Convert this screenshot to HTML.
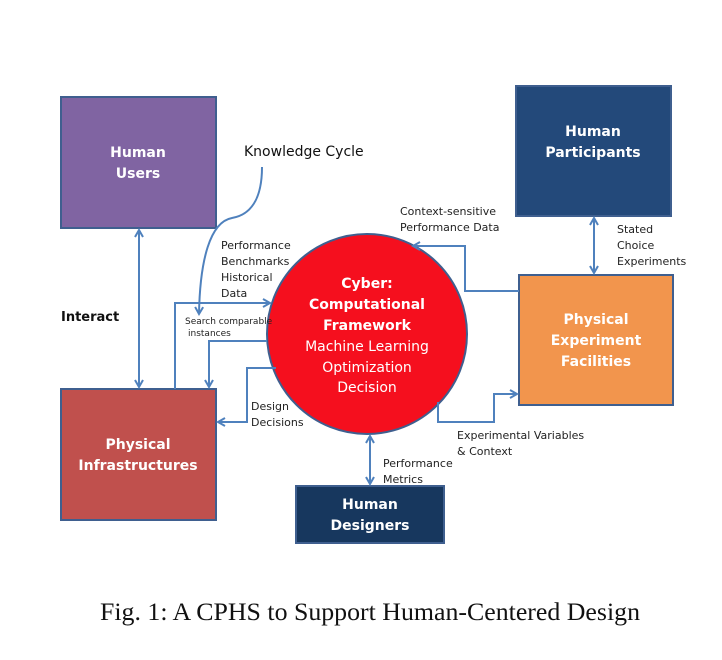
<!DOCTYPE html>
<html><head><meta charset="utf-8"><style>
html,body{margin:0;padding:0;background:#fff;}
svg{display:block;}
.w{font-family:"DejaVu Sans","Liberation Sans",sans-serif;font-weight:bold;fill:#fff;font-size:14px;}
.l{font-family:"DejaVu Sans","Liberation Sans",sans-serif;fill:#222;font-size:11px;}
.ln{stroke:#4f81bd;stroke-width:2;fill:none;}
</style></head><body>
<svg width="722" height="660" viewBox="0 0 722 660">
<defs>
<marker id="a" markerWidth="10" markerHeight="10" refX="8" refY="5" orient="auto-start-reverse" markerUnits="userSpaceOnUse">
<path d="M1,1 L8,5 L1,9" fill="none" stroke="#4f81bd" stroke-width="2"/></marker>
</defs>
<rect x="61" y="97" width="155" height="131" fill="#8064a2" stroke="#3f5f8f" stroke-width="2"/>
<text class="w" x="138" y="157" text-anchor="middle">Human</text>
<text class="w" x="138" y="178" text-anchor="middle">Users</text>
<rect x="516" y="86" width="155" height="130" fill="#23497a" stroke="#3f5f8f" stroke-width="2"/>
<text class="w" x="593" y="136" text-anchor="middle">Human</text>
<text class="w" x="593" y="157" text-anchor="middle">Participants</text>
<rect x="519" y="275" width="154" height="130" fill="#f2954d" stroke="#3f5f8f" stroke-width="2"/>
<text class="w" x="596" y="324" text-anchor="middle">Physical</text>
<text class="w" x="596" y="345" text-anchor="middle">Experiment</text>
<text class="w" x="596" y="366" text-anchor="middle">Facilities</text>
<rect x="61" y="389" width="155" height="131" fill="#c0504d" stroke="#3f5f8f" stroke-width="2"/>
<text class="w" x="138" y="449" text-anchor="middle">Physical</text>
<text class="w" x="138" y="470" text-anchor="middle">Infrastructures</text>
<rect x="296" y="486" width="148" height="57" fill="#17375e" stroke="#3f5f8f" stroke-width="2"/>
<text class="w" x="370" y="509" text-anchor="middle">Human</text>
<text class="w" x="370" y="530" text-anchor="middle">Designers</text>
<circle cx="367" cy="334" r="100" fill="#f50f1e" stroke="#3f5f8f" stroke-width="2"/>
<text class="w" x="367" y="288" text-anchor="middle">Cyber:</text>
<text class="w" x="367" y="309" text-anchor="middle">Computational</text>
<text class="w" x="367" y="330" text-anchor="middle">Framework</text>
<g class="w" style="font-weight:normal" text-anchor="middle">
<text x="367" y="351">Machine Learning</text>
<text x="367" y="372">Optimization</text>
<text x="367" y="392">Decision</text>
</g>
<line class="ln" x1="139" y1="230" x2="139" y2="387" marker-start="url(#a)" marker-end="url(#a)"/>
<line class="ln" x1="594" y1="218" x2="594" y2="273" marker-start="url(#a)" marker-end="url(#a)"/>
<line class="ln" x1="370" y1="436" x2="370" y2="484" marker-start="url(#a)" marker-end="url(#a)"/>
<path class="ln" d="M262,167 C262,200 250,215 232,218 C210,222 200,260 199,314" marker-end="url(#a)"/>
<path class="ln" d="M175,389 L175,303 L270,303" marker-end="url(#a)"/>
<path class="ln" d="M267,341 L209,341 L209,387" marker-end="url(#a)"/>
<path class="ln" d="M276,368 L247,368 L247,422 L218,422" marker-end="url(#a)"/>
<path class="ln" d="M519,291 L465,291 L465,246 L413,246" marker-end="url(#a)"/>
<path class="ln" d="M438,402 L438,422 L494,422 L494,394 L517,394" marker-end="url(#a)"/>
<text x="244" y="156" style="font-family:'DejaVu Sans','Liberation Sans',sans-serif;font-size:14px;fill:#111">Knowledge Cycle</text>
<text x="61" y="321" style="font-family:'DejaVu Sans','Liberation Sans',sans-serif;font-size:13px;font-weight:bold;fill:#111">Interact</text>
<text class="l" x="221" y="249">Performance</text>
<text class="l" x="221" y="265">Benchmarks</text>
<text class="l" x="221" y="281">Historical</text>
<text class="l" x="221" y="297">Data</text>
<text class="l" x="185" y="324" style="font-size:9px">Search comparable</text>
<text class="l" x="188" y="336" style="font-size:9px">instances</text>
<text class="l" x="400" y="215">Context-sensitive</text>
<text class="l" x="400" y="231">Performance Data</text>
<text class="l" x="617" y="233">Stated</text>
<text class="l" x="617" y="249">Choice</text>
<text class="l" x="617" y="265">Experiments</text>
<text class="l" x="251" y="410">Design</text>
<text class="l" x="251" y="426">Decisions</text>
<text class="l" x="457" y="439">Experimental Variables</text>
<text class="l" x="457" y="455">&amp; Context</text>
<text class="l" x="383" y="467">Performance</text>
<text class="l" x="383" y="483">Metrics</text>
<text x="370" y="620" text-anchor="middle" textLength="540" lengthAdjust="spacingAndGlyphs" style="font-family:'Liberation Serif',serif;font-size:25px;fill:#111">Fig. 1: A CPHS to Support Human-Centered Design</text>
</svg>
</body></html>
